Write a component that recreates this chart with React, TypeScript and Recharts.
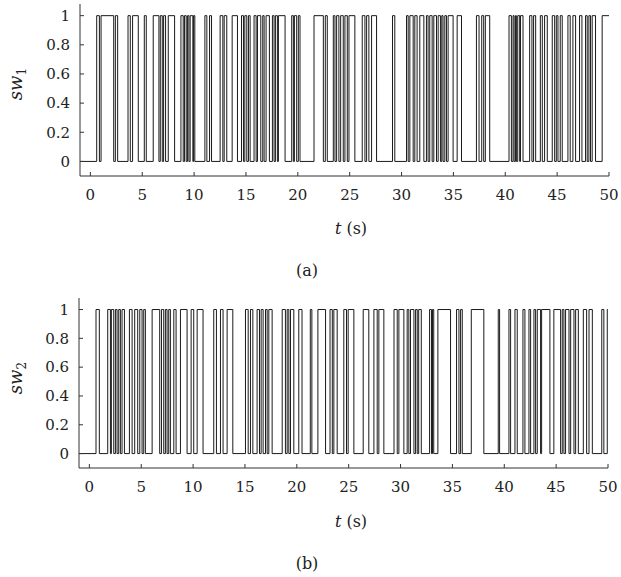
import React from 'react';
import { LineChart, Line, XAxis, YAxis } from 'recharts';

// switching instants (s); signal starts at 0 and toggles at each instant
const sw1Switches = [
  0.61, 0.87, 1.03, 2.25, 2.41, 2.63, 3.63, 3.85, 4.07, 4.62, 5.2, 5.39,
  6.06, 6.61, 6.74, 6.93, 7.06, 7.25, 7.51, 8.12, 8.73, 8.95, 9.08, 9.24,
  9.37, 9.5, 9.62, 9.88, 9.95, 10.07, 11.04, 11.23, 11.49, 11.68, 12.51, 12.77,
  12.9, 13.15, 13.67, 14.18, 14.57, 14.76, 14.89, 15.08, 15.24, 15.4, 15.78, 15.98,
  16.11, 16.43, 16.62, 16.75, 16.94, 17.26, 17.55, 17.71, 17.84, 18.03, 18.13, 18.77,
  19.41, 19.57, 19.67, 19.89, 20.05, 20.21, 21.56, 22.46, 22.65, 22.84, 23.42, 23.58,
  23.74, 23.96, 24.13, 24.38, 24.54, 24.77, 24.93, 25.5, 26.21, 26.47, 26.63, 26.85,
  27.11, 27.59, 29.13, 29.35, 30.48, 30.64, 30.8, 31.12, 31.28, 31.5, 31.76, 32.15,
  32.4, 32.56, 32.72, 32.95, 33.11, 33.37, 33.53, 33.75, 33.88, 34.0, 34.17, 34.33,
  34.49, 34.97, 35.36, 35.78, 37.22, 37.47, 37.73, 37.92, 38.08, 38.5, 40.36, 40.59,
  40.75, 40.85, 40.98, 41.07, 41.2, 41.39, 41.47, 41.71, 42.35, 42.57, 42.73, 42.93,
  43.38, 43.57, 43.79, 44.05, 44.53, 44.76, 44.92, 45.08, 45.3, 45.49, 46.04, 46.26,
  46.52, 46.78, 47.16, 47.39, 47.74, 47.9, 48.06, 48.22, 48.38, 48.7, 49.34,
];

const sw2Switches = [
  0.64, 0.96, 1.77, 2.03, 2.12, 2.35, 2.51, 2.67, 2.83, 2.99, 3.15, 3.38,
  3.86, 4.12, 4.37, 4.66, 4.86, 5.08, 5.24, 5.4, 6.05, 6.78, 6.95, 7.17,
  7.33, 7.49, 7.65, 7.81, 8.14, 8.36, 8.78, 9.42, 9.81, 10.06, 10.39, 10.96,
  11.99, 12.25, 12.64, 12.89, 13.28, 13.83, 15.05, 15.31, 15.53, 15.76, 16.17, 16.4,
  16.56, 16.75, 16.98, 17.14, 17.3, 17.62, 18.59, 18.9, 19.07, 19.23, 19.39, 19.71,
  20.19, 20.5, 21.3, 21.45, 22.03, 22.77, 23.2, 23.42, 23.57, 23.89, 24.53, 24.79,
  24.95, 25.5, 26.4, 26.94, 27.43, 27.75, 27.91, 28.39, 29.37, 29.68, 29.84, 30.32,
  30.64, 30.8, 30.96, 31.29, 31.45, 31.61, 31.75, 32.0, 32.8, 32.98, 33.08, 33.2,
  33.6, 34.82, 35.4, 35.63, 35.79, 35.95, 36.82, 38.03, 39.42, 39.55, 40.45, 40.61,
  41.03, 41.25, 41.8, 41.99, 42.38, 42.54, 42.86, 43.02, 43.18, 43.5, 43.6, 44.4,
  44.78, 45.43, 45.59, 45.75, 45.91, 46.24, 46.4, 46.72, 46.88, 47.14, 47.62, 47.94,
  48.17, 48.49, 49.4, 49.6, 49.93,
];

const timeTicks = [0, 5, 10, 15, 20, 25, 30, 35, 40, 45, 50];
const levelTicks = [0, 0.2, 0.4, 0.6, 0.8, 1];
const tStart = -1;
const tEnd = 50;

function buildSteps(switches: number[]) {
  const rows = [{ t: tStart, v: 0 }];
  let v = 0;
  switches.forEach((t) => {
    v = 1 - v;
    rows.push({ t, v });
  });
  rows.push({ t: tEnd, v });
  return rows;
}

const font = '"DejaVu Serif", serif';
const tickStyle = { fontFamily: font, fontSize: 15, fill: '#222' };

interface SwitchPlotProps {
  data: { t: number; v: number }[];
  margin: { top: number; right: number; bottom: number; left: number };
}

function SwitchPlot({ data, margin }: SwitchPlotProps) {
  return (
    <LineChart width={621} height={240} data={data} margin={margin}>
      <XAxis
        type="number"
        dataKey="t"
        domain={[tStart, tEnd]}
        ticks={timeTicks}
        tickSize={-4}
        tickMargin={17}
        height={30}
        stroke="#333"
        tick={tickStyle}
        interval={0}
      />
      <YAxis
        type="number"
        domain={[-0.1, 1.08]}
        ticks={levelTicks}
        tickSize={-4}
        tickMargin={14}
        width={60}
        stroke="#333"
        tick={tickStyle}
        interval={0}
        tickFormatter={(v: number) => String(v)}
      />
      <Line
        type="stepAfter"
        dataKey="v"
        stroke="#1a1a1a"
        strokeWidth={1}
        dot={false}
        isAnimationActive={false}
      />
    </LineChart>
  );
}

function YLabel({ sub, x, y }: { sub: string; x: number; y: number }) {
  return (
    <div
      style={{
        position: 'absolute',
        left: x,
        top: y,
        transform: 'translate(-50%, -50%) rotate(-90deg)',
        fontFamily: font,
        fontSize: 18,
        whiteSpace: 'nowrap',
        color: '#222',
      }}
    >
      <i>sw</i>
      <span style={{ fontSize: 12, verticalAlign: '-4px' }}>{sub}</span>
    </div>
  );
}

function Caption({ x, y, children }: { x: number; y: number; children: React.ReactNode }) {
  return (
    <div
      style={{
        position: 'absolute',
        left: x,
        top: y,
        transform: 'translate(-50%, -50%)',
        fontFamily: font,
        fontSize: 16,
        whiteSpace: 'nowrap',
        color: '#222',
      }}
    >
      {children}
    </div>
  );
}

export default function App() {
  const sw1Data = buildSteps(sw1Switches);
  const sw2Data = buildSteps(sw2Switches);

  return (
    <div style={{ position: 'absolute', left: 0, top: 0, width: 621, height: 577, background: '#fff' }}>
      <div style={{ position: 'absolute', left: 0, top: 0 }}>
        <SwitchPlot data={sw1Data} margin={{ top: 4, right: 12, bottom: 34, left: 20 }} />
      </div>
      <div style={{ position: 'absolute', left: 0, top: 290 }}>
        <SwitchPlot data={sw2Data} margin={{ top: 8, right: 13, bottom: 32, left: 19 }} />
      </div>

      <YLabel sub="1" x={17} y={84} />
      <YLabel sub="2" x={17} y={378} />

      <Caption x={351} y={228}>
        <i>t</i> (s)
      </Caption>
      <Caption x={307} y={270}>(a)</Caption>
      <Caption x={351} y={521}>
        <i>t</i> (s)
      </Caption>
      <Caption x={307} y={563}>(b)</Caption>
    </div>
  );
}
